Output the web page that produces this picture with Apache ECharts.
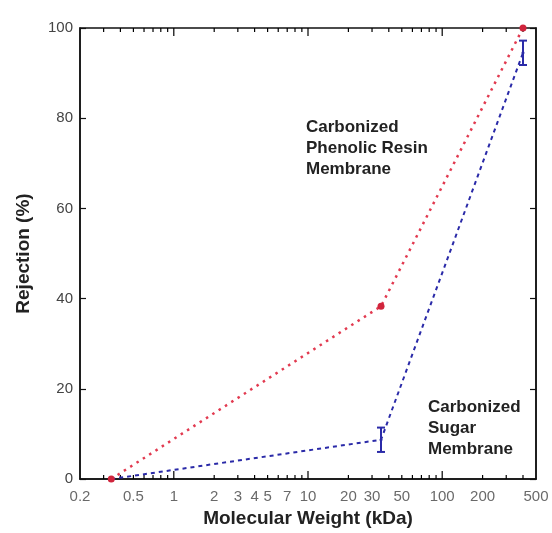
<!DOCTYPE html>
<html>
<head>
<meta charset="utf-8">
<script src="https://cdn.jsdelivr.net/npm/echarts@6/dist/echarts.min.js"></script>
<style>
html,body{margin:0;padding:0;background:#fff;}
#chart{width:552px;height:533px;}
</style>
</head>
<body>
<div id="chart"></div>
<script>
// ---- data ----
const molecularWeight = [0.342, 35, 400];          // kDa
const phenolicRejection = [0, 38.3, 100];          // %
const sugarRejection = [0, 8.7, 94.5];             // %
const sugarError = [0, 2.7, 2.7];                  // +/- %
const xTickLabels = [0.2, 0.5, 1, 2, 3, 4, 5, 7, 10, 20, 30, 50, 100, 200, 500];
const xMajorTicks = [1, 10, 100];
const xMinorTicks = [0.3, 0.4, 0.5, 0.6, 0.7, 0.8, 0.9, 2, 3, 4, 5, 6, 7, 8, 9,
                     20, 30, 40, 50, 60, 70, 80, 90, 200, 300, 400];

const FONT = 'Liberation Sans, Arial, Helvetica, sans-serif';
const RED = '#e23a50';
const BLUE = '#2a2aa8';

const chart = echarts.init(document.getElementById('chart'), null, {renderer: 'canvas'});

function tickRenderer(len) {
  return function (params, api) {
    const v = api.value(0);
    const b = api.coord([v, 0]);
    const t = api.coord([v, 100]);
    const style = {stroke: '#000', lineWidth: 1.2};
    return {
      type: 'group',
      children: [
        {type: 'line', shape: {x1: b[0], y1: b[1], x2: b[0], y2: b[1] - len}, style: style},
        {type: 'line', shape: {x1: t[0], y1: t[1], x2: t[0], y2: t[1] + len}, style: style}
      ]
    };
  };
}

const option = {
  backgroundColor: '#fff',
  animation: false,
  grid: {left: 80, right: 16, top: 28, bottom: 50, show: true, borderColor: '#111', borderWidth: 1.5, backgroundColor: 'transparent'},
  xAxis: {
    type: 'log', logBase: 10, min: 0.2, max: 500,
    axisLine: {show: true, lineStyle: {color: '#111', width: 1.5}},
    axisTick: {show: false},
    axisLabel: {show: false},
    splitLine: {show: false},
    minorTick: {show: false},
    name: 'Molecular Weight (kDa)',
    nameLocation: 'middle',
    nameGap: 30,
    nameTextStyle: {fontFamily: FONT, fontWeight: 'bold', fontSize: 19, color: '#222'}
  },
  yAxis: [{
    type: 'value', min: 0, max: 100, interval: 20,
    axisLine: {show: true, lineStyle: {color: '#111', width: 1.5}},
    axisTick: {show: true, inside: true, length: 6, lineStyle: {color: '#111', width: 1.2}},
    axisLabel: {fontFamily: FONT, fontSize: 15, color: '#444', margin: 7},
    splitLine: {show: false},
    name: 'Rejection (%)',
    nameLocation: 'middle',
    nameGap: 47,
    nameTextStyle: {fontFamily: FONT, fontWeight: 'bold', fontSize: 19, color: '#222'}
  }, {
    type: 'value', min: 0, max: 100, interval: 20, position: 'right',
    axisLine: {show: true, lineStyle: {color: '#111', width: 1.5}},
    axisTick: {show: true, inside: true, length: 6, lineStyle: {color: '#111', width: 1.2}},
    axisLabel: {show: false},
    splitLine: {show: false}
  }],
  graphic: [
    {type: 'text', left: 306, top: 117, style: {text: 'Carbonized\nPhenolic Resin\nMembrane', font: 'bold 17px ' + FONT, fill: '#222', lineHeight: 21}},
    {type: 'text', left: 428, top: 397, style: {text: 'Carbonized\nSugar\nMembrane', font: 'bold 17px ' + FONT, fill: '#222', lineHeight: 21}}
  ],
  series: [
    {
      type: 'custom', name: 'majorTicks', silent: true, clip: false, z: 1,
      data: xMajorTicks.map(v => [v, 0]),
      renderItem: tickRenderer(8)
    },
    {
      type: 'custom', name: 'minorTicks', silent: true, clip: false, z: 1,
      data: xMinorTicks.map(v => [v, 0]),
      renderItem: tickRenderer(4)
    },
    {
      type: 'scatter', name: 'xLabels', silent: true, symbolSize: 0, clip: false,
      data: xTickLabels.map(v => [v, 0]),
      label: {show: true, position: 'bottom', distance: 10, formatter: p => String(p.value[0]),
              fontFamily: FONT, fontSize: 15, color: '#444', lineHeight: 15}
    },
    {
      type: 'line', name: 'Carbonized Sugar Membrane',
      data: molecularWeight.map((x, i) => [x, sugarRejection[i]]),
      lineStyle: {color: BLUE, width: 2, type: [4, 4]},
      itemStyle: {color: BLUE},
      symbol: 'circle', symbolSize: 3, z: 3
    },
    {
      type: 'custom', name: 'sugarErrorBars', z: 4,
      data: molecularWeight.map((x, i) => [x, sugarRejection[i] - sugarError[i], sugarRejection[i] + sugarError[i]]),
      renderItem: function (params, api) {
        if (api.value(2) - api.value(1) <= 0) return null;
        const lo = api.coord([api.value(0), api.value(1)]);
        const hi = api.coord([api.value(0), api.value(2)]);
        const w = 4;
        const st = {stroke: BLUE, lineWidth: 2};
        return {type: 'group', children: [
          {type: 'line', shape: {x1: lo[0], y1: lo[1], x2: hi[0], y2: hi[1]}, style: st},
          {type: 'line', shape: {x1: lo[0] - w, y1: lo[1], x2: lo[0] + w, y2: lo[1]}, style: st},
          {type: 'line', shape: {x1: hi[0] - w, y1: hi[1], x2: hi[0] + w, y2: hi[1]}, style: st}
        ]};
      }
    },
    {
      type: 'line', name: 'Carbonized Phenolic Resin Membrane',
      data: molecularWeight.map((x, i) => [x, phenolicRejection[i]]),
      lineStyle: {color: RED, width: 2.5, type: [2.5, 5]},
      itemStyle: {color: '#d0243c'},
      symbol: 'circle', symbolSize: 7, z: 5
    }
  ]
};
chart.setOption(option);
</script>
</body>
</html>
